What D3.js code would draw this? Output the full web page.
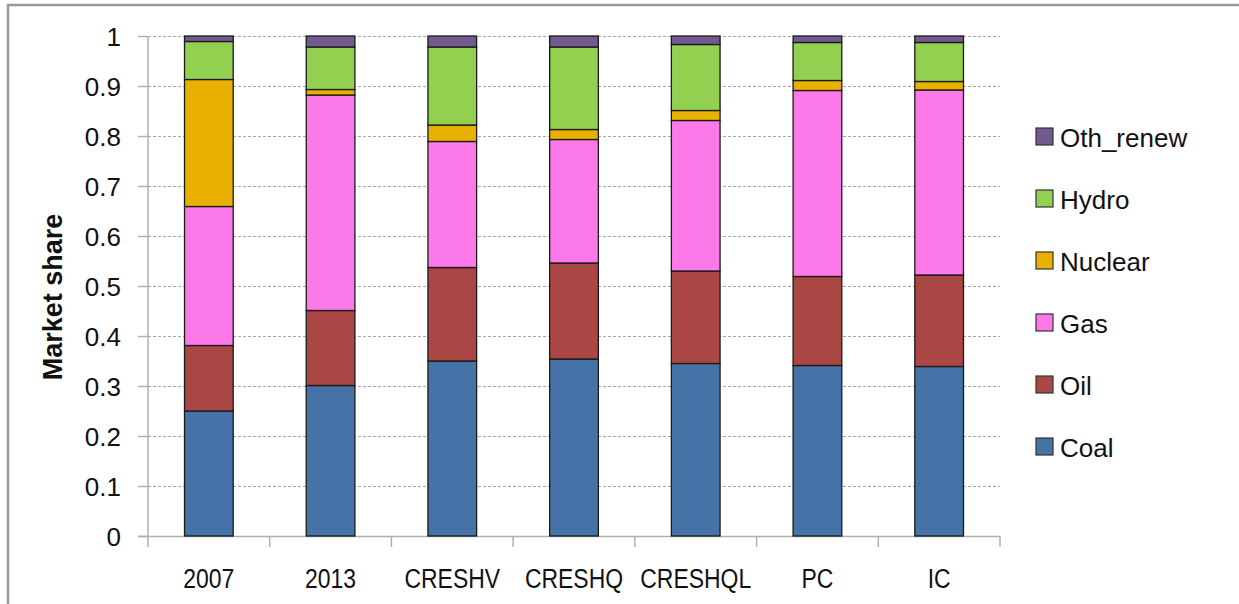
<!DOCTYPE html>
<meta charset="utf-8">
<script src="https://d3js.org/d3.v7.min.js"></script>
<style>
    body { margin: 0; background: #fff; }
    svg text { font-family: "Liberation Sans", Arial, sans-serif; fill: #111; }
</style>
<div id="my_dataviz"></div>
<script>

    // categories and series (stack order bottom -> top)
    var categories = ["2007", "2013", "CRESHV", "CRESHQ", "CRESHQL", "PC", "IC"];
    var seriesNames = ["Coal", "Oil", "Gas", "Nuclear", "Hydro", "Oth_renew"];

    var coal      = [0.250, 0.301, 0.350, 0.354, 0.345, 0.341, 0.339];
    var oil       = [0.131, 0.150, 0.187, 0.192, 0.185, 0.178, 0.183];
    var gas       = [0.278, 0.431, 0.252, 0.247, 0.301, 0.372, 0.370];
    var nuclear   = [0.254, 0.011, 0.033, 0.020, 0.020, 0.020, 0.017];
    var hydro     = [0.076, 0.085, 0.156, 0.165, 0.132, 0.076, 0.078];
    var othRenew  = [0.011, 0.022, 0.022, 0.022, 0.017, 0.013, 0.013];

    var yTicks = [0, 0.1, 0.2, 0.3, 0.4, 0.5, 0.6, 0.7, 0.8, 0.9, 1];
    var colors = ["#4572A7", "#AA4643", "#FC79EA", "#E8B000", "#92D050", "#725990"];

    // build rows for d3.stack
    var seriesValues = [coal, oil, gas, nuclear, hydro, othRenew];
    var data = categories.map(function (c, i) {
        var row = { group: c };
        seriesNames.forEach(function (s, j) { row[s] = seriesValues[j][i]; });
        return row;
    });

    var width = 1239, height = 604;
    var plot = { left: 148, right: 1000, top: 36, bottom: 536 };

    var svg = d3.select("#my_dataviz")
        .append("svg")
        .attr("width", width)
        .attr("height", height);

    // outer frame (left + top only, rest is cropped)
    svg.append("path")
        .attr("d", "M8," + height + "V5H" + width)
        .attr("fill", "none")
        .attr("stroke", "#999")
        .attr("stroke-width", 2.5);

    // slots for each category, bars take 40% of a slot
    var slot = d3.scaleBand()
        .domain(categories)
        .range([plot.left, plot.right])
        .padding(0);
    var x = d3.scaleBand()
        .domain(categories)
        .range([plot.left, plot.right])
        .paddingInner(0.6)
        .paddingOuter(0.3);

    var y = d3.scaleLinear()
        .domain([0, 1])
        .range([plot.bottom, plot.top]);

    var color = d3.scaleOrdinal()
        .domain(seriesNames)
        .range(colors);

    // gridlines
    svg.append("g")
        .selectAll("line")
        .data(yTicks.filter(function (d) { return d > 0; }))
        .enter().append("line")
        .attr("x1", plot.left)
        .attr("x2", plot.right)
        .attr("y1", function (d) { return Math.round(y(d)) + 0.5; })
        .attr("y2", function (d) { return Math.round(y(d)) + 0.5; })
        .attr("stroke", "#a6a6a6")
        .attr("stroke-width", 1.2)
        .attr("stroke-dasharray", "3,2");

    // Y axis
    var yAxis = svg.append("g")
        .attr("transform", "translate(" + plot.left + ",0)")
        .call(d3.axisLeft(y).tickValues(yTicks).tickSize(10).tickPadding(17)
            .tickFormat(function (d) { return d === 0 || d === 1 ? String(d) : d3.format(".1f")(d); }));
    yAxis.select(".domain").attr("stroke", "#b0b0b0").attr("stroke-width", 1.5)
        .attr("d", "M0," + y(0) + "V" + y(1));
    yAxis.selectAll(".tick line").attr("stroke", "#b0b0b0").attr("stroke-width", 1.5);
    yAxis.selectAll(".tick text")
        .attr("font-size", 26)
        .attr("dy", "0.36em")
        .style("font-family", "'Liberation Sans', Arial, sans-serif")
        .attr("fill", "#111");

    // X axis: labels centered, ticks at slot boundaries
    var xAxis = svg.append("g")
        .attr("transform", "translate(0," + plot.bottom + ")")
        .call(d3.axisBottom(slot).tickSize(0).tickPadding(33));
    xAxis.select(".domain").attr("stroke", "#b0b0b0").attr("stroke-width", 1.5)
        .attr("d", "M" + (plot.left - 10) + ",0.5H" + plot.right);
    xAxis.selectAll(".tick text")
        .attr("font-size", 27)
        .attr("transform", "scale(0.85,1)")   // labels are narrower in the original
        .style("font-family", "'Liberation Sans', Arial, sans-serif")
        .attr("fill", "#111");
    xAxis.selectAll(".bound")
        .data(categories.concat(["end"]))
        .enter().append("line")
        .attr("x1", function (d, i) { return plot.left + i * slot.step(); })
        .attr("x2", function (d, i) { return plot.left + i * slot.step(); })
        .attr("y1", 0)
        .attr("y2", 11)
        .attr("stroke", "#b0b0b0")
        .attr("stroke-width", 1.5);

    // stacked bars
    var stackedData = d3.stack().keys(seriesNames)(data);

    svg.append("g")
        .selectAll("g")
        .data(stackedData)
        .enter().append("g")
        .attr("fill", function (d) { return color(d.key); })
        .selectAll("rect")
        .data(function (d) { return d; })
        .enter().append("rect")
        .attr("x", function (d) { return x(d.data.group); })
        .attr("y", function (d) { return y(d[1]); })
        .attr("height", function (d) { return y(d[0]) - y(d[1]); })
        .attr("width", x.bandwidth())
        .attr("stroke", "#1a1a1a")
        .attr("stroke-width", 1.3);

    // Y axis title
    svg.append("text")
        .attr("transform", "translate(62,297) rotate(-90)")
        .attr("text-anchor", "middle")
        .attr("font-size", 27)
        .attr("font-weight", "bold")
        .text("Market share");

    // legend (top item = last series)
    var legendItems = seriesNames.slice().reverse();
    var legend = svg.append("g")
        .selectAll("g")
        .data(legendItems)
        .enter().append("g")
        .attr("transform", function (d, i) { return "translate(1036," + (128 + i * 62) + ")"; });
    legend.append("rect")
        .attr("width", 17)
        .attr("height", 17)
        .attr("fill", function (d) { return color(d); })
        .attr("stroke", "#333")
        .attr("stroke-width", 1.2);
    legend.append("text")
        .attr("x", 24)
        .attr("y", 19)
        .attr("font-size", 26)
        .text(function (d) { return d; });

</script>
